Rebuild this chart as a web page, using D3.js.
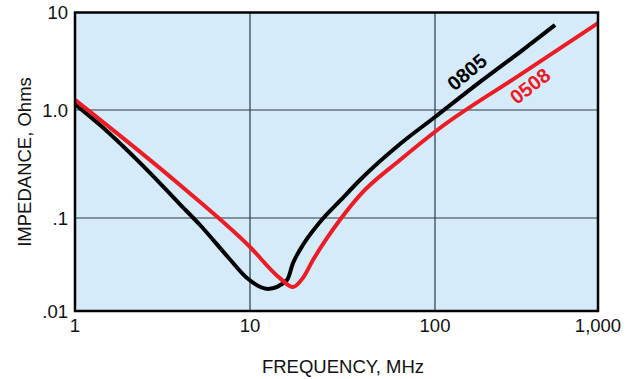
<!DOCTYPE html>
<html lang="en">
<meta charset="utf-8">
<style>
body { margin: 0; background: #fff; }
svg { display: block; font-family: "Liberation Sans", Arial, sans-serif; }
.grid line { stroke: #2b3a44; stroke-width: 1.2; }
.tick-label { font-size: 18.5px; fill: #111; }
.title { font-size: 18.5px; fill: #111; }
</style>
<body>
<svg width="636" height="379"></svg>
<script src="https://d3js.org/d3.v7.min.js"></script>
<script>

// frequency in MHz, impedance in Ohms
var freq0805 = [1, 1.39, 2.68, 3.98, 5.18, 7.69, 9.61, 12.5, 15.85, 17.08, 18.6, 23.9, 30.6, 39.3, 64.7, 100, 189, 332, 545];
var imp0805  = [1.15, 0.726, 0.262, 0.134, 0.0841, 0.0358, 0.0226, 0.01726, 0.0215, 0.0328, 0.0453, 0.0905, 0.1437, 0.225, 0.484, 0.861, 1.94, 3.93, 7.45];

var freq0508 = [1, 3.98, 10, 14.5, 17.08, 19.3, 21.9, 26.1, 30.6, 39.3, 64.7, 107.3, 332, 1000];
var imp0508  = [1.27, 0.202, 0.0488, 0.0226, 0.0181, 0.0226, 0.0353, 0.061, 0.0952, 0.163, 0.344, 0.681, 2.29, 7.8];

var xTicks = [1, 10, 100, 1000];
var xTickLabels = ["1", "10", "100", "1,000"];
var yTicks = [0.01, 0.1, 1, 10];
var yTickLabels = [".01", ".1", "1.0", "10"];

var seriesNames = ["0805", "0508"];
var seriesColors = ["#000000", "#ec1c24"];
// label anchor positions, in data units
var labelFreq = [157, 383];
var labelImp = [2.45, 1.76];
var labelAngle = [-40, -38];

var svg = d3.select("svg");

// the original is drawn by hand, decades are not quite even
var x = d3.scaleLog()
    .domain(xTicks)
    .range([75, 250, 435, 598]);

var y = d3.scaleLog()
    .domain(yTicks)
    .range([311, 218, 110, 12.5]);

svg.append("rect")
    .attr("x", x(1))
    .attr("y", y(10))
    .attr("width", x(1000) - x(1))
    .attr("height", y(0.01) - y(10))
    .attr("fill", "#d5ebf9");

var grid = svg.append("g").attr("class", "grid");

grid.selectAll(".gx")
    .data(xTicks.slice(1, -1))
  .enter().append("line")
    .attr("x1", function(d) { return x(d); })
    .attr("x2", function(d) { return x(d); })
    .attr("y1", y(10))
    .attr("y2", y(0.01));

grid.selectAll(".gy")
    .data(yTicks.slice(1, -1))
  .enter().append("line")
    .attr("y1", function(d) { return y(d); })
    .attr("y2", function(d) { return y(d); })
    .attr("x1", x(1))
    .attr("x2", x(1000));

var line = d3.line()
    .x(function(d) { return x(d[0]); })
    .y(function(d) { return y(d[1]); })
    .curve(d3.curveMonotoneX);

var series = [d3.zip(freq0805, imp0805), d3.zip(freq0508, imp0508)];

svg.selectAll(".curve")
    .data(series)
  .enter().append("path")
    .attr("class", "curve")
    .attr("fill", "none")
    .attr("stroke", function(d, i) { return seriesColors[i]; })
    .attr("stroke-width", 4)
    .attr("stroke-linejoin", "round")
    .attr("d", line);

svg.append("rect")
    .attr("x", x(1))
    .attr("y", y(10))
    .attr("width", x(1000) - x(1))
    .attr("height", y(0.01) - y(10))
    .attr("fill", "none")
    .attr("stroke", "#000")
    .attr("stroke-width", 2.5);

svg.selectAll(".series-label")
    .data(seriesNames)
  .enter().append("text")
    .attr("class", "series-label")
    .attr("transform", function(d, i) {
      return "translate(" + x(labelFreq[i]) + "," + y(labelImp[i]) + ") rotate(" + labelAngle[i] + ")";
    })
    .attr("text-anchor", "middle")
    .attr("dy", "0.35em")
    .attr("font-size", 20)
    .attr("font-weight", "bold")
    .attr("fill", function(d, i) { return seriesColors[i]; })
    .text(function(d) { return d; });

svg.selectAll(".xl")
    .data(xTicks)
  .enter().append("text")
    .attr("class", "tick-label")
    .attr("x", function(d) { return x(d); })
    .attr("y", 332)
    .attr("text-anchor", "middle")
    .text(function(d, i) { return xTickLabels[i]; });

svg.selectAll(".yl")
    .data(yTicks)
  .enter().append("text")
    .attr("class", "tick-label")
    .attr("x", 68)
    .attr("y", function(d) { return y(d); })
    .attr("dy", "0.36em")
    .attr("text-anchor", "end")
    .text(function(d, i) { return yTickLabels[i]; });

svg.append("text")
    .attr("class", "title")
    .attr("x", 343)
    .attr("y", 373)
    .attr("text-anchor", "middle")
    .text("FREQUENCY, MHz");

svg.append("text")
    .attr("class", "title")
    .attr("transform", "translate(31,162) rotate(-90)")
    .attr("text-anchor", "middle")
    .text("IMPEDANCE, Ohms");

</script>
</body>
</html>
